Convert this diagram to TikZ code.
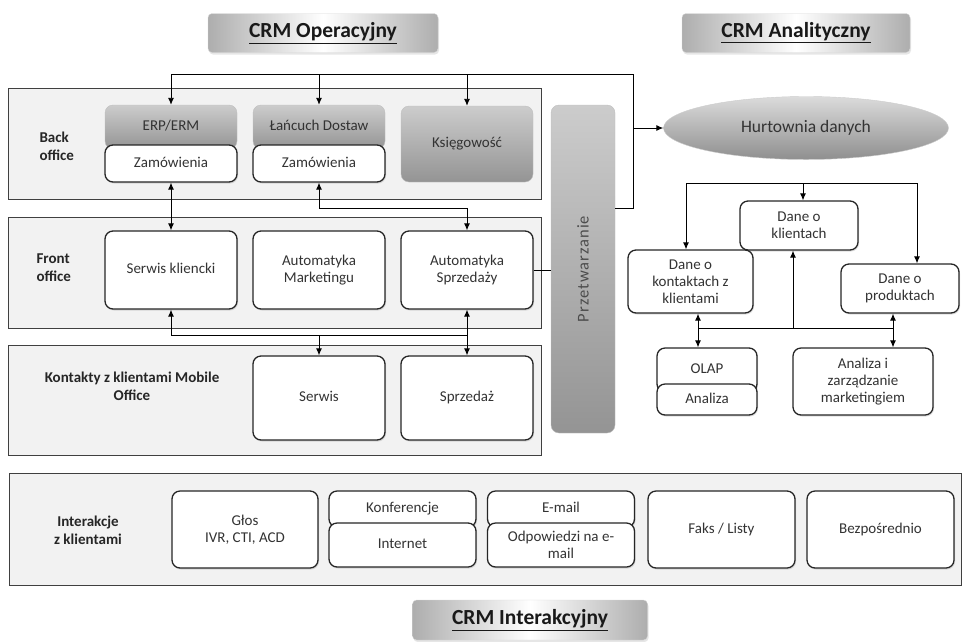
\documentclass[tikz,border=0pt]{standalone}
\usepackage{fontspec}
\setmainfont{Carlito}
\newfontfamily\spacedfont[LetterSpace=6]{Carlito}
\usepackage{tikz}
\usetikzlibrary{arrows.meta,shapes.geometric,shadows}
\tikzset{txt/.style={font=\fontsize{15}{17}\selectfont, text=black!80, align=center}}
\tikzset{one/.style={text height=10pt, text depth=3pt}}
\tikzset{hd/.style={font=\fontsize{15}{18}\selectfont\bfseries, text=black!85}}
\tikzset{sz/.style 2 args={minimum width=#1, minimum height=#2, inner sep=0pt}}
\tikzset{panel/.style={draw=black!75, fill=black!5, line width=0.9pt}}
\tikzset{wbox/.style={txt, draw=black!85, fill=white, line width=1.3pt, rounded corners=8pt,
  drop shadow={opacity=0.25, shadow xshift=1pt, shadow yshift=-1.5pt}}}
\tikzset{gbox/.style={txt, draw=black!25, top color=black!20, bottom color=black!42, rounded corners=8pt}}
\tikzset{ttl/.style={font=\fontsize{21.5}{24}\selectfont\bfseries, text=black!90, rounded corners=4pt,
  draw=black!15, left color=black!32, right color=black!32, middle color=white,
  drop shadow={opacity=0.2, shadow xshift=1pt, shadow yshift=-2pt}}}
\tikzset{conn/.style={draw=black, line width=0.9pt, >={Latex[length=7pt,width=6pt]}}}

\begin{document}
\begin{tikzpicture}[x=1pt,y=-1pt]
  \useasboundingbox (0,0) rectangle (963,641);
  \node[ttl, sz={230}{39}] (crmop) at (323,33) {\underline{CRM Operacyjny}};
  \node[ttl, sz={228}{39}] (crman) at (796,33) {\underline{CRM Analityczny}};
  \node[ttl, sz={235}{40}] (crmin) at (530,620) {\underline{CRM Interakcyjny}};

  \node[panel, sz={533}{111}] (backp) at (274.5,143.5) {};
  \node[panel, sz={533}{111}] (frontp) at (274.5,272.5) {};
  \node[panel, sz={533}{110}] (kontp) at (274.5,400) {};
  \node[panel, sz={952}{112}] (interp) at (485,529) {};

  \node[hd, anchor=west, align=left] (backl) at (36,146) {Back\\office};
  \node[hd, anchor=west, align=left] (frontl) at (33,268) {Front\\office};
  \node[hd, align=center] (kontl) at (132,386.5) {Kontakty z klientami Mobile\\Office};
  \node[hd, align=center] (interl) at (88,530) {Interakcje\\z klientami};

  \node[gbox, sz={64}{328}] (proc) at (583,269) {};
  \node[rotate=90, font=\fontsize{16.5}{16.5}\spacedfont, text=black!70] (proctxt) at (proc) {Przetwarzanie};

  \node[gbox, one, sz={132}{44}] (erp) at (171,127) {ERP/ERM};
  \node[wbox, one, sz={132}{37}] (erpzam) at (171,163.5) {Zamówienia};
  \node[gbox, one, sz={132}{44}] (lanc) at (319,127) {Łańcuch Dostaw};
  \node[wbox, one, sz={132}{37}] (lanczam) at (319,163.5) {Zamówienia};
  \node[gbox, one, sz={132}{76}] (ksieg) at (467,144) {Księgowość};

  \node[wbox, one, sz={132}{78}] (serwkl) at (171,270) {Serwis kliencki};
  \node[wbox, sz={132}{78}] (automark) at (319,270) {Automatyka\\Marketingu};
  \node[wbox, sz={132}{78}] (autosprz) at (467,270) {Automatyka\\Sprzedaży};

  \node[wbox, one, sz={132}{84}] (serwis) at (319,398) {Serwis};
  \node[wbox, one, sz={132}{84}] (sprzedaz) at (467,398) {Sprzedaż};

  \node[ellipse, sz={285}{63}, draw=black!20, top color=black!14, bottom color=black!44,
    font=\fontsize{17.5}{17.5}\selectfont, text=black!80] (hurt) at (806,128) {Hurtownia danych};

  \node[wbox, sz={118}{49}] (daneklient) at (799,225.5) {Dane o\\klientach};
  \node[wbox, sz={125}{63}] (danekontakt) at (690.5,281.5) {Dane o\\kontaktach z\\klientami};
  \node[wbox, sz={118}{49}] (daneprod) at (900,288.5) {Dane o\\produktach};
  \node[wbox, one, sz={100}{44}] (olap) at (707,370) {OLAP};
  \node[wbox, one, sz={100}{31}] (olapan) at (707,399.5) {Analiza};
  \node[wbox, sz={140}{67}] (analmark) at (863,381.5) {Analiza i\\zarządzanie\\marketingiem};

  \node[wbox, sz={146}{77}] (glos) at (245,529.5) {Głos\\IVR, CTI, ACD};
  \node[wbox, one, sz={147}{36}] (konf) at (402.5,509) {Konferencje};
  \node[wbox, one, sz={147}{44}] (internet) at (402.5,545) {Internet};
  \node[wbox, one, sz={147}{36}] (email) at (561,509) {E-mail};
  \node[wbox, sz={147}{44}] (odpow) at (561,545) {Odpowiedzi na e-\\mail};
  \node[wbox, one, sz={147}{77}] (faks) at (721.5,529.5) {Faks / Listy};
  \node[wbox, one, sz={147}{77}] (bezp) at (880.5,529.5) {Bezpośrednio};

  \coordinate (pj) at (633,208);
  \coordinate (topy) at (0,74);
  \coordinate (lmid) at (0,208);
  \coordinate (fmid) at (0,335);
  \draw[conn,->] (proc.east |- pj) -- (pj) -- (pj |- topy) -| (erp.north);
  \draw[conn,->] (lanc.north |- topy) -- (lanc.north);
  \draw[conn,->] (ksieg.north |- topy) -- (ksieg.north);
  \draw[conn,->] (pj |- hurt.west) -- (hurt.west);
  \draw[conn,<->] (erpzam.south) -- (serwkl.north);
  \draw[conn,<->] (lanczam.south) |- (lmid -| autosprz.north) -- (autosprz.north);
  \draw[conn] (autosprz.east) -- (proc.west |- autosprz.east);
  \draw[conn,->] (fmid -| autosprz.south) -| (serwkl.south);
  \draw[conn,->] (fmid -| serwis.north) -- (serwis.north);
  \draw[conn,<->] (autosprz.south) -- (sprzedaz.north);

  \coordinate (t1) at (686,183);
  \coordinate (t2) at (803,183);
  \coordinate (t3) at (917,183);
  \draw[conn,<->] (t1 |- danekontakt.north) -- (t1) -- (t3) -- (t3 |- daneprod.north);
  \draw[conn,->] (t2) -- (t2 |- daneklient.north);
  \coordinate (j1) at (698,328);
  \coordinate (j2) at (793,328);
  \coordinate (j3) at (893,328);
  \draw[conn] (j1) -- (j3);
  \draw[conn,->] (j2) -- (j2 |- daneklient.south);
  \draw[conn,<->] (j1 |- danekontakt.south) -- (j1 |- olap.north);
  \draw[conn,<->] (j3 |- daneprod.south) -- (j3 |- analmark.north);
\end{tikzpicture}
\end{document}
